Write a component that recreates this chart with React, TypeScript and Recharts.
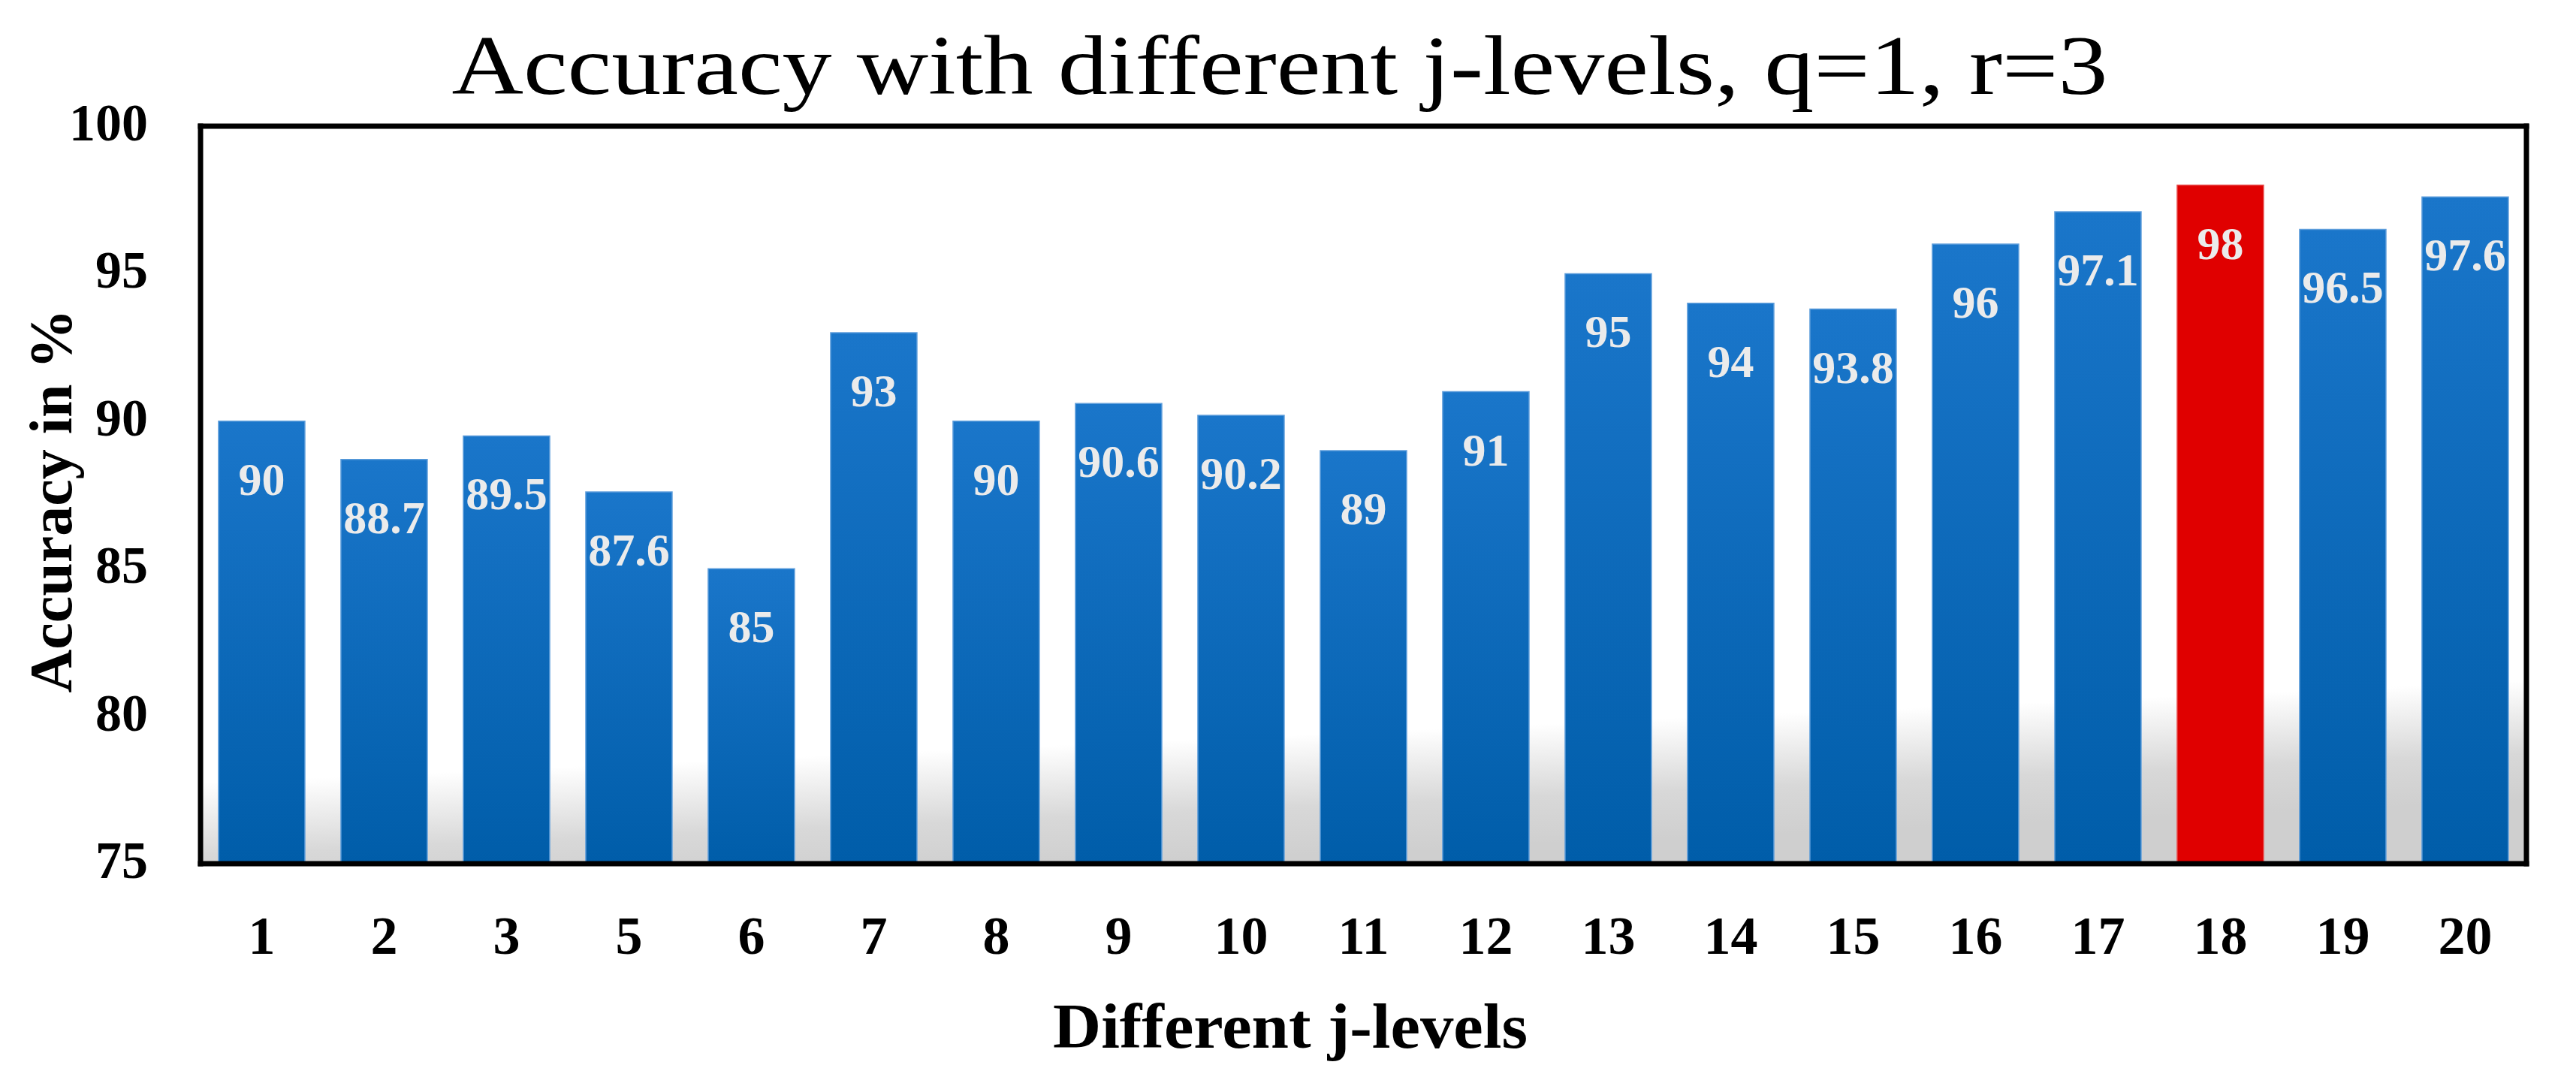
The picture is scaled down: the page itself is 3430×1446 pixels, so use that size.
import { BarChart, Bar, XAxis, YAxis, CartesianGrid, Cell, LabelList, Label } from 'recharts';

// ── Data ──────────────────────────────────────────────────────────────────────

const levels = ['1', '2', '3', '5', '6', '7', '8', '9', '10', '11', '12', '13', '14', '15', '16', '17', '18', '19', '20'];
const accuracy = [90, 88.7, 89.5, 87.6, 85, 93, 90, 90.6, 90.2, 89, 91, 95, 94, 93.8, 96, 97.1, 98, 96.5, 97.6];
const yTicks = [75, 80, 85, 90, 95, 100];
const bestLevel = '18';

const data = levels.map((level, i) => ({ level, acc: accuracy[i] }));

// ── Styling ───────────────────────────────────────────────────────────────────

const W = 3430;
const H = 1446;
const SERIF = '"Palatino Linotype", "Book Antiqua", Palatino, "Liberation Serif", serif';
const FRAME = { stroke: '#000', strokeWidth: 7, strokeLinecap: 'square' as const };

// ── Custom ticks / labels ─────────────────────────────────────────────────────

function XTick({ x, y, payload }: any) {
  return (
    <text x={x} y={y} dy={118} textAnchor="middle" fontFamily={SERIF} fontWeight="bold" fontSize={72} fill="#000">
      {payload.value}
    </text>
  );
}

function YTick({ x, y, payload }: any) {
  return (
    <text x={x} y={y} dy={19} textAnchor="end" fontFamily={SERIF} fontWeight="bold" fontSize={70} fill="#000">
      {payload.value}
    </text>
  );
}

function BarValue(props: any) {
  const { x, y, width, value } = props;
  return (
    <text x={x + width / 2} y={y} dy={98} textAnchor="middle" fontFamily={SERIF} fontWeight="bold" fontSize={62} fill="#ebebeb">
      {value}
    </text>
  );
}

export default function App() {
  return (
    <div style={{ position: 'absolute', left: 0, top: 0, background: '#fff' }}>
      <BarChart
        width={W}
        height={H}
        data={data}
        margin={{ top: 167, right: 65, bottom: 96, left: 0 }}
        barCategoryGap="14.7%"
      >
        <defs>
          <linearGradient id="barBlue" x1="0" y1="0" x2="0" y2="1">
            <stop offset="0%" stopColor="#1a76ca" />
            <stop offset="100%" stopColor="#005da9" />
          </linearGradient>
          <linearGradient id="floorShade" gradientUnits="userSpaceOnUse" x1="1800" y1="975" x2="1807" y2="1135">
            <stop offset="0%" stopColor="#ffffff" />
            <stop offset="60%" stopColor="#d8d8d8" />
            <stop offset="100%" stopColor="#cfcfcf" />
          </linearGradient>
        </defs>

        <CartesianGrid horizontal={false} vertical={false} fill="url(#floorShade)" />

        <XAxis
          dataKey="level"
          interval={0}
          height={200}
          axisLine={FRAME}
          tickLine={false}
          tickSize={0}
          tick={<XTick />}
        >
          <Label
            content={() => (
              <text
                x={W / 2 + 3}
                y={1395}
                textAnchor="middle"
                fontFamily={SERIF}
                fontWeight="bold"
                fontSize={84}
                textLength={632}
                lengthAdjust="spacingAndGlyphs"
                fill="#000"
              >
                Different j-levels
              </text>
            )}
          />
        </XAxis>
        <XAxis xAxisId="top" orientation="top" dataKey="level" height={1} tick={false} tickLine={false} axisLine={FRAME}>
          <Label
            content={() => (
              <text
                x={W / 2 - 11}
                y={125}
                textAnchor="middle"
                fontFamily={SERIF}
                fontSize={112}
                textLength={2205}
                lengthAdjust="spacingAndGlyphs"
                fill="#000"
              >
                Accuracy with different j-levels, q=1, r=3
              </text>
            )}
          />
        </XAxis>

        <YAxis
          domain={[75, 100]}
          ticks={yTicks}
          width={267}
          axisLine={FRAME}
          tickLine={false}
          tickSize={0}
          tickMargin={70}
          tick={<YTick />}
        >
          <Label
            content={() => (
              <text
                x={95}
                y={667}
                transform="rotate(-90 95 667)"
                textAnchor="middle"
                fontFamily={SERIF}
                fontWeight="bold"
                fontSize={80}
                fill="#000"
              >
                Accuracy in %
              </text>
            )}
          />
        </YAxis>
        <YAxis yAxisId="right" orientation="right" domain={[75, 100]} width={1} tick={false} tickLine={false} axisLine={FRAME} />

        <Bar dataKey="acc" isAnimationActive={false} stroke="#5d9ddb" strokeWidth={1.5}>
          {data.map((d) => (
            <Cell
              key={d.level}
              fill={d.level === bestLevel ? '#e00000' : 'url(#barBlue)'}
              stroke={d.level === bestLevel ? '#e84a4a' : '#5d9ddb'}
            />
          ))}
          <LabelList dataKey="acc" content={<BarValue />} />
        </Bar>
      </BarChart>
    </div>
  );
}
